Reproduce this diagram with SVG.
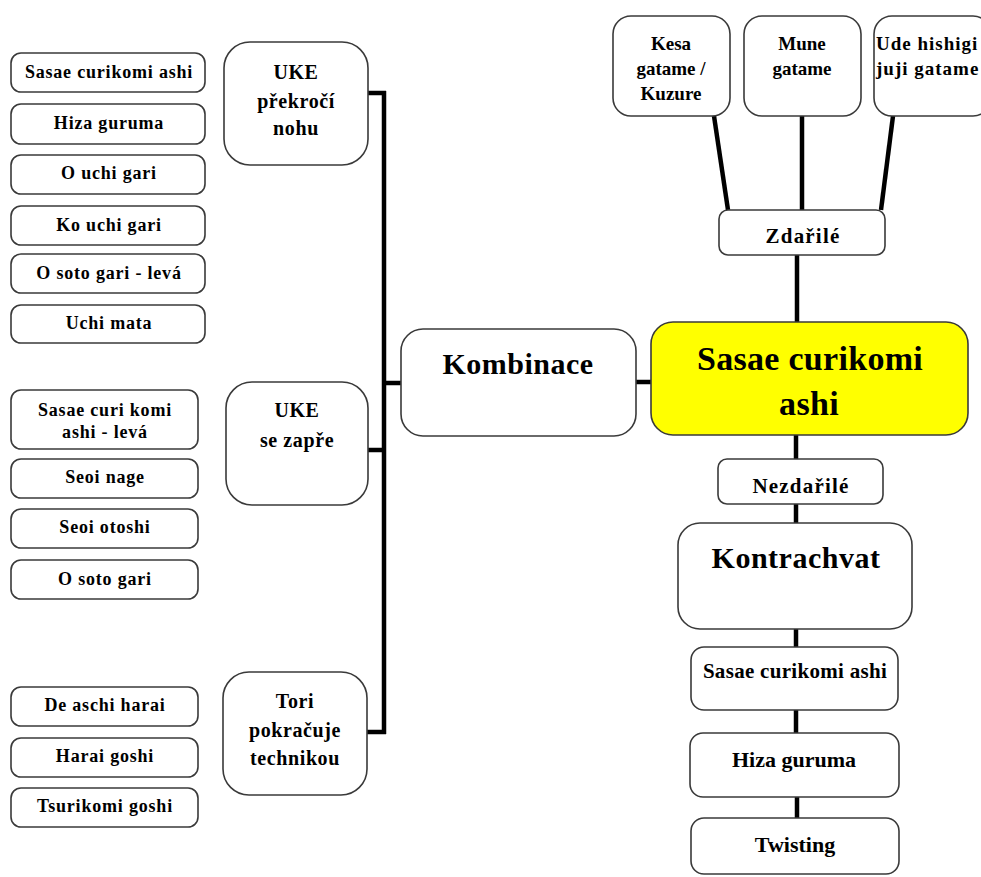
<svg xmlns="http://www.w3.org/2000/svg" width="981" height="877" viewBox="0 0 981 877">
  <style>
    .box { fill: #ffffff; stroke: #3a3a3a; stroke-width: 1.6; }
    .main { fill: #ffff00; stroke: #3a3a3a; stroke-width: 1.6; }
    .link { stroke: #000000; stroke-width: 4.5; fill: none; }
    text { font-family: "Liberation Serif", "Times New Roman", serif; font-weight: bold; fill: #000000; text-anchor: middle; }
    .s18 { font-size: 18px; letter-spacing: 0.8px; }
    .s19 { font-size: 19px; }
    .s19w { font-size: 19px; letter-spacing: 1px; text-anchor: start; }
    .s20 { font-size: 20px; letter-spacing: 0.6px; }
    .s21 { font-size: 21px; letter-spacing: 1.2px; }
    .s21n { font-size: 21px; letter-spacing: 0.3px; }
    .s22 { font-size: 22px; }
    .s30 { font-size: 30px; letter-spacing: 0.5px; }
    .s34 { font-size: 34px; letter-spacing: 0.3px; }
  </style>
  <rect width="981" height="877" fill="#ffffff"/>

  <!-- connectors -->
  <g id="connectors">
    <line class="link" x1="384" y1="91" x2="384" y2="734"/>
    <line class="link" x1="367" y1="93" x2="386" y2="93"/>
    <line class="link" x1="367" y1="450" x2="384" y2="450"/>
    <line class="link" x1="366" y1="732" x2="386" y2="732"/>
    <line class="link" x1="384" y1="383" x2="401" y2="383"/>
    <line class="link" x1="636" y1="382" x2="651" y2="382"/>
    <line class="link" x1="797" y1="255" x2="797" y2="322"/>
    <line class="link" x1="796" y1="435" x2="796" y2="459"/>
    <line class="link" x1="796" y1="504" x2="796" y2="523"/>
    <line class="link" x1="796" y1="629" x2="796" y2="647"/>
    <line class="link" x1="796" y1="710" x2="796" y2="733"/>
    <line class="link" x1="797" y1="797" x2="797" y2="818"/>
    <line class="link" x1="714" y1="116" x2="728" y2="210"/>
    <line class="link" x1="802" y1="116" x2="802" y2="210"/>
    <line class="link" x1="893" y1="116" x2="881" y2="210"/>
  </g>

  <!-- left column: techniques -->
  <g id="n-sasae-1"><rect class="box" x="11" y="53" width="194" height="39" rx="10"/><text class="s18" x="109" y="78">Sasae curikomi ashi</text></g>
  <g id="n-hiza-1"><rect class="box" x="11" y="104" width="194" height="40" rx="10"/><text class="s18" x="109" y="129">Hiza guruma</text></g>
  <g id="n-ouchi"><rect class="box" x="11" y="155" width="194" height="39" rx="10"/><text class="s18" x="109" y="179">O uchi gari</text></g>
  <g id="n-kouchi"><rect class="box" x="11" y="206" width="194" height="39" rx="10"/><text class="s18" x="109" y="231">Ko uchi gari</text></g>
  <g id="n-osoto-leva"><rect class="box" x="11" y="254" width="194" height="39" rx="10"/><text class="s18" x="109" y="279">O soto gari - levá</text></g>
  <g id="n-uchimata"><rect class="box" x="11" y="305" width="194" height="38" rx="10"/><text class="s18" x="109" y="329">Uchi mata</text></g>

  <g id="n-sasae-leva"><rect class="box" x="11" y="390" width="187" height="59" rx="10"/><text class="s18" x="105" y="416">Sasae curi komi</text><text class="s18" x="105" y="438">ashi - levá</text></g>
  <g id="n-seoinage"><rect class="box" x="11" y="459" width="187" height="39" rx="10"/><text class="s18" x="105" y="483">Seoi nage</text></g>
  <g id="n-seoiotoshi"><rect class="box" x="11" y="509" width="187" height="39" rx="10"/><text class="s18" x="105" y="533">Seoi otoshi</text></g>
  <g id="n-osoto"><rect class="box" x="11" y="560" width="187" height="39" rx="10"/><text class="s18" x="105" y="585">O soto gari</text></g>

  <g id="n-deashi"><rect class="box" x="11" y="687" width="187" height="39" rx="10"/><text class="s18" x="105" y="711">De aschi harai</text></g>
  <g id="n-harai"><rect class="box" x="11" y="738" width="187" height="39" rx="10"/><text class="s18" x="105" y="762">Harai goshi</text></g>
  <g id="n-tsurikomi"><rect class="box" x="11" y="788" width="187" height="39" rx="10"/><text class="s18" x="105" y="812">Tsurikomi goshi</text></g>

  <!-- situations -->
  <g id="n-uke-prekroci"><rect class="box" x="224" y="42" width="144" height="123" rx="26"/><text class="s20" x="296" y="79">UKE</text><text class="s20" x="296" y="108">překročí</text><text class="s20" x="296" y="135">nohu</text></g>
  <g id="n-uke-zapre"><rect class="box" x="226" y="382" width="142" height="123" rx="26"/><text class="s20" x="297" y="417">UKE</text><text class="s20" x="297" y="447">se zapře</text></g>
  <g id="n-tori"><rect class="box" x="223" y="672" width="144" height="123" rx="26"/><text class="s20" x="295" y="708">Tori</text><text class="s20" x="295" y="737">pokračuje</text><text class="s20" x="295" y="765">technikou</text></g>

  <g id="n-kombinace"><rect class="box" x="401" y="329" width="235" height="107" rx="22"/><text class="s30" x="518" y="374">Kombinace</text></g>

  <!-- central technique -->
  <g id="n-main"><rect class="main" x="651" y="322" width="317" height="113" rx="22"/><text class="s34" x="810" y="370">Sasae curikomi</text><text class="s34" x="809" y="415">ashi</text></g>

  <!-- successful branch -->
  <g id="n-zdarile"><rect class="box" x="719" y="210" width="166" height="45" rx="9"/><text class="s21" x="803" y="243">Zdařilé</text></g>
  <g id="n-kesa"><rect class="box" x="613" y="16" width="117" height="100" rx="18"/><text class="s19" x="671" y="50">Kesa</text><text class="s19" x="671" y="75">gatame /</text><text class="s19" x="671" y="100">Kuzure</text></g>
  <g id="n-mune"><rect class="box" x="744" y="16" width="117" height="100" rx="18"/><text class="s19" x="802" y="50">Mune</text><text class="s19" x="802" y="75">gatame</text></g>
  <g id="n-ude"><rect class="box" x="874" y="16" width="117" height="100" rx="18"/><text class="s19w" x="876" y="50">Ude hishigi</text><text class="s19w" x="876" y="75">juji gatame</text></g>

  <!-- failed branch -->
  <g id="n-nezdarile"><rect class="box" x="718" y="459" width="165" height="45" rx="9"/><text class="s21" x="801" y="493">Nezdařilé</text></g>
  <g id="n-kontrachvat"><rect class="box" x="678" y="523" width="234" height="106" rx="22"/><text class="s30" x="796" y="568">Kontrachvat</text></g>
  <g id="n-sasae-2"><rect class="box" x="691" y="647" width="207" height="63" rx="13"/><text class="s21n" x="795" y="678">Sasae curikomi ashi</text></g>
  <g id="n-hiza-2"><rect class="box" x="690" y="733" width="209" height="64" rx="13"/><text class="s22" x="794" y="767">Hiza guruma</text></g>
  <g id="n-twisting"><rect class="box" x="691" y="818" width="208" height="56" rx="13"/><text class="s22" x="795" y="852">Twisting</text></g>
</svg>
